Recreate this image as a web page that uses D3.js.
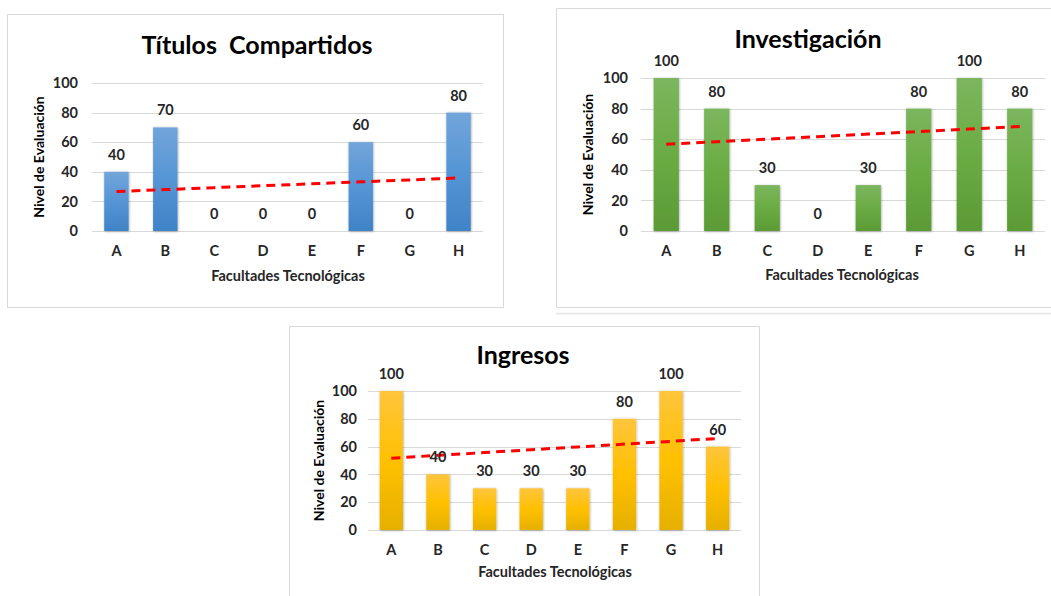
<!DOCTYPE html>
<html><head><meta charset="utf-8">
<script src="https://cdnjs.cloudflare.com/ajax/libs/d3/7.8.5/d3.min.js"></script>
<style>
html,body{margin:0;padding:0;background:#fff;}
svg{display:block;}
text{font-family:Lato,"Open Sans",sans-serif;font-weight:bold;}
</style></head>
<body>
<svg id="chart" width="1051" height="596"></svg>
<script>
const categories = ["A","B","C","D","E","F","G","H"];
const titulosValues = [40,70,0,0,0,60,0,80];
const investigacionValues = [100,80,30,0,30,80,100,80];
const ingresosValues = [100,40,30,30,30,80,100,60];
const yTicks = [0,20,40,60,80,100];
const titles = ["Títulos  Compartidos","Investigación","Ingresos"];
const xAxisTitle = "Facultades Tecnológicas";
const yAxisTitle = "Nivel de Evaluación";

const svg = d3.select("#chart");
const defs = svg.append("defs");
const shadow = defs.append("filter").attr("id","shadow").attr("x","-30%").attr("y","-10%").attr("width","160%").attr("height","130%");
shadow.append("feDropShadow").attr("dx",0.5).attr("dy",0.5).attr("stdDeviation",1.3).attr("flood-color","#000").attr("flood-opacity",0.35);

function grad(id, stops){
  const g = defs.append("linearGradient").attr("id",id).attr("x1",0).attr("y1",0).attr("x2",0).attr("y2",1);
  stops.forEach(s=>g.append("stop").attr("offset",s[0]).attr("stop-color",s[1]));
}
grad("gBlue",[[0,"#72a5da"],[0.5,"#5595d5"],[1,"#4083c7"]]);
grad("gGreen",[[0,"#7bb65e"],[0.5,"#6aac43"],[1,"#5b9a35"]]);
grad("gGold",[[0,"#ffc53d"],[0.5,"#ffc000"],[1,"#e6b000"]]);

// frames
svg.append("rect").attr("x",7.5).attr("y",14.5).attr("width",496).attr("height",293).attr("fill","none").attr("stroke","#d9d9d9").attr("stroke-width",1);
svg.append("path").attr("d","M1051,8.5H556.5V307.5H1051").attr("fill","none").attr("stroke","#d9d9d9");
svg.append("path").attr("d","M556,313.5H1051").attr("fill","none").attr("stroke","#e3e3e3").attr("stroke-width",1.5);
svg.append("path").attr("d","M289.5,596V326.5H759.5V596").attr("fill","none").attr("stroke","#d9d9d9");

const panels = [
  {values:titulosValues, title:titles[0], fill:"url(#gBlue)", x0:92, x1:483, yTop:83, yBot:231, titleX:257, titleY:54, tickX:78, yTitleX:44, xLabY:257, xTitleX:288, xTitleY:281},
  {values:investigacionValues, title:titles[1], fill:"url(#gGreen)", x0:641, x1:1045, yTop:78, yBot:231, titleX:808, titleY:48, tickX:628, yTitleX:593, xLabY:257, xTitleX:842, xTitleY:280},
  {values:ingresosValues, title:titles[2], fill:"url(#gGold)", x0:368, x1:741, yTop:391, yBot:530, titleX:523, titleY:364, tickX:357, yTitleX:324, xLabY:556, xTitleX:555, xTitleY:577}
];

panels.forEach(p=>{
  const g = svg.append("g");
  const x = d3.scaleBand().domain(categories).range([p.x0,p.x1]).paddingInner(0.5).paddingOuter(0.25);
  const y = d3.scaleLinear().domain([0,100]).range([p.yBot,p.yTop]);

  // gridlines
  g.selectAll("line.grid").data(yTicks).enter().append("line")
    .attr("x1",p.x0).attr("x2",p.x1)
    .attr("y1",d=>Math.round(y(d))+0.5).attr("y2",d=>Math.round(y(d))+0.5)
    .attr("stroke","#d9d9d9").attr("stroke-width",1);

  // y tick labels
  const yAxis = d3.axisLeft(y).tickValues(yTicks).tickSize(0).tickPadding(0);
  const ya = g.append("g").attr("transform",`translate(${p.tickX},0)`).call(yAxis);
  ya.select(".domain").remove();
  ya.selectAll("text").attr("font-size",14.5).attr("fill","#262626").attr("font-family","Lato,sans-serif").attr("font-weight","bold");

  // x tick labels
  const xAxis = d3.axisBottom(x).tickSize(0).tickPadding(0);
  const xa = g.append("g").attr("transform",`translate(0,${p.xLabY-11})`).call(xAxis);
  xa.select(".domain").remove();
  xa.selectAll("text").attr("font-size",14.5).attr("fill","#262626").attr("font-family","Lato,sans-serif").attr("font-weight","bold");

  // bars
  g.selectAll("rect.bar").data(p.values.map((v,i)=>({c:categories[i],v}))).enter().append("rect")
    .attr("x",d=>x(d.c)).attr("width",x.bandwidth())
    .attr("y",d=>y(d.v)).attr("height",d=>y(0)-y(d.v))
    .attr("fill",p.fill).attr("filter","url(#shadow)");

  // trend line (least-squares fit of the series)
  const n = p.values.length;
  const xs = d3.range(1,n+1);
  const mx = d3.mean(xs), my = d3.mean(p.values);
  const slope = d3.sum(xs.map((xi,i)=>(xi-mx)*(p.values[i]-my)))/d3.sum(xs.map(xi=>(xi-mx)*(xi-mx)));
  const icpt = my - slope*mx;
  const trend = categories.map((c,i)=>({c, v: icpt + slope*(i+1)}));
  g.append("path").datum(trend)
    .attr("d", d3.line().x(d=>x(d.c)+x.bandwidth()/2).y(d=>y(d.v)))
    .attr("fill","none").attr("stroke","#ff0000").attr("stroke-width",3).attr("stroke-dasharray","9,6");

  // data labels
  g.selectAll("text.lbl").data(p.values.map((v,i)=>({c:categories[i],v}))).enter().append("text")
    .attr("x",d=>x(d.c)+x.bandwidth()/2).attr("y",d=>y(d.v)-12)
    .attr("text-anchor","middle").attr("font-size",14.5).attr("fill","#262626")
    .text(d=>d.v);

  // titles
  g.append("text").attr("x",p.titleX).attr("y",p.titleY).attr("text-anchor","middle")
    .attr("font-size",25).attr("fill","#000").style("white-space","pre").text(p.title);
  g.append("text").attr("x",p.xTitleX).attr("y",p.xTitleY).attr("text-anchor","middle")
    .attr("font-size",14.5).attr("fill","#262626").text(xAxisTitle);
  g.append("text").attr("transform",`translate(${p.yTitleX},${(p.yTop+p.yBot)/2}) rotate(-90)`)
    .attr("text-anchor","middle").attr("font-size",14).attr("fill","#000").text(yAxisTitle);
});
</script>
</body></html>
